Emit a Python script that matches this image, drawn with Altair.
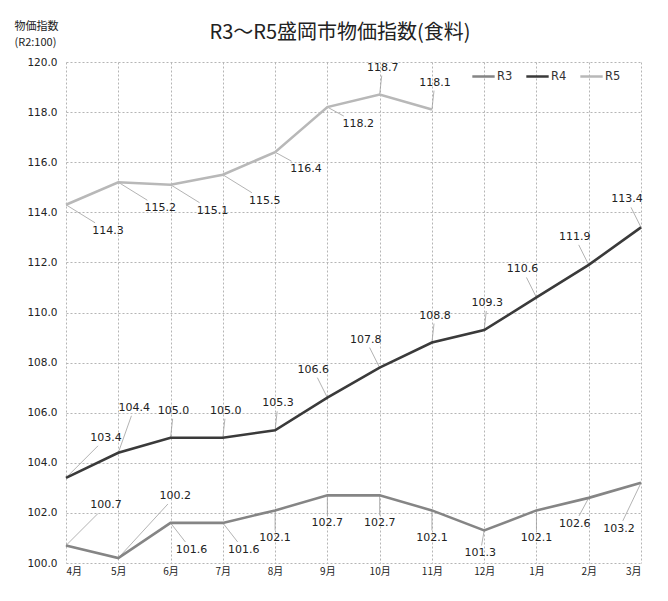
import altair as alt
import pandas as pd

months = ["4月", "5月", "6月", "7月", "8月", "9月", "10月", "11月", "12月", "1月", "2月", "3月"]
r3 = [100.7, 100.2, 101.6, 101.6, 102.1, 102.7, 102.7, 102.1, 101.3, 102.1, 102.6, 103.2]
r4 = [103.4, 104.4, 105.0, 105.0, 105.3, 106.6, 107.8, 108.8, 109.3, 110.6, 111.9, 113.4]
r5 = [114.3, 115.2, 115.1, 115.5, 116.4, 118.2, 118.7, 118.1]
series_names = ["R3", "R4", "R5"]
series_colors = ["#858585", "#3a3a3a", "#b8b8b8"]
y_ticks = [100, 102, 104, 106, 108, 110, 112, 114, 116, 118, 120]
chart_title = "R3～R5盛岡市物価指数(食料)"

# label placement presets (callout direction)
place_r3 = ["ur", "ur2", "dr", "dr", "d", "d", "d", "d", "ds", "d", "dl", "dl2"]
place_r4 = ["ur", "u2", "u", "u", "u", "ul", "ul", "u", "u", "ul", "ul", "ul"]
place_r5 = ["dr2", "dr2", "dr2", "dr2", "dr3", "dr3", "u", "u"]
presets = {
    "ur": (40, -40), "ur2": (57, -62), "u2": (16, -45), "u": (3, -27),
    "ul": (-14, -28), "dr": (21, 27), "dr2": (42, 26), "dr3": (31, 17),
    "d": (0, 28), "ds": (-4, 23), "dl": (-14, 26), "dl2": (-22, 46),
}

W, H = 575, 501
XPX = W / 11
YPX = H / 20

rows = []
for name, vals, places in [("R3", r3, place_r3), ("R4", r4, place_r4), ("R5", r5, place_r5)]:
    for i, v in enumerate(vals):
        dx, dy = presets[places[i]]
        cands = []
        if dx:
            cands.append(20 / abs(dx))
        if dy:
            cands.append(8 / abs(dy))
        t = max(0.0, 1 - min(cands))
        rows.append({
            "series": name, "idx": i, "month": months[i], "value": v,
            "label": f"{v:.1f}",
            "lx": i + dx / XPX, "ly": v - dy / YPX,
            "ex": i + t * dx / XPX, "ey": v - t * dy / YPX,
        })
df = pd.DataFrame(rows)

label_expr = "[" + ",".join(f"'{m}'" for m in months) + "][datum.value]"

x_enc = alt.X("idx:Q", scale=alt.Scale(domain=[0, 11], nice=False, zero=False),
              axis=alt.Axis(values=list(range(12)), labelExpr=label_expr, title=None,
                            ticks=False, domain=False, grid=True, gridDash=[2, 2],
                            gridColor="#b5b5b5", labelPadding=3, labelFontSize=10,
                            labelFont="Noto Sans CJK JP", labelColor="#222"))
y_enc = alt.Y("value:Q", scale=alt.Scale(domain=[100, 120], nice=False, zero=False),
              axis=alt.Axis(values=y_ticks, format=".1f", ticks=False, domain=False,
                            grid=True, gridDash=[2, 2], gridColor="#b5b5b5",
                            labelPadding=9, labelFontSize=10.5, labelFont="DejaVu Sans",
                            labelColor="#222",
                            title=["物価指数", "(R2:100)"], titleAngle=0, titleX=-52,
                            titleY=-42, titleAlign="left", titleBaseline="top",
                            titleFontSize=11, titleFontWeight="normal",
                            titleFont="Noto Sans CJK JP", titleLineHeight=16,
                            titleColor="#222"))

color = alt.Color("series:N", scale=alt.Scale(domain=series_names, range=series_colors),
                  legend=alt.Legend(orient="none", legendX=405, legendY=2,
                                    direction="horizontal", title=None,
                                    symbolType="stroke", symbolStrokeWidth=2.5,
                                    symbolSize=500, labelFontSize=11.5,
                                    labelFont="DejaVu Sans", labelColor="#333",
                                    columnPadding=8, labelOffset=1))

base = alt.Chart(df)

leaders = base.mark_rule(color="#a0a0a0", strokeWidth=0.8).encode(
    x=x_enc, y=y_enc, x2="ex:Q", y2="ey:Q")

lines = base.mark_line(strokeWidth=2.6).encode(
    x=x_enc, y=y_enc, color=color, order="idx:Q")

texts = base.mark_text(fontSize=11, font="DejaVu Sans", color="#222",
                       align="center", baseline="middle").encode(
    x=alt.X("lx:Q"), y=alt.Y("ly:Q"), text="label:N")

title_mark = alt.Chart(pd.DataFrame({"t": [chart_title]})).mark_text(
    fontSize=20, font="Noto Sans CJK JP", color="#222", align="center",
    baseline="middle").encode(x=alt.value(274), y=alt.value(-29), text="t:N")

chart = alt.layer(leaders, lines, texts, title_mark).properties(
    width=W, height=H,
    autosize=alt.AutoSizeParams(type="none"),
    padding={"left": 58, "top": 54, "right": 19, "bottom": 30},
    background="white",
).configure_view(stroke=None)

chart.save("out.html", embed_options={"renderer": "svg", "actions": False})
